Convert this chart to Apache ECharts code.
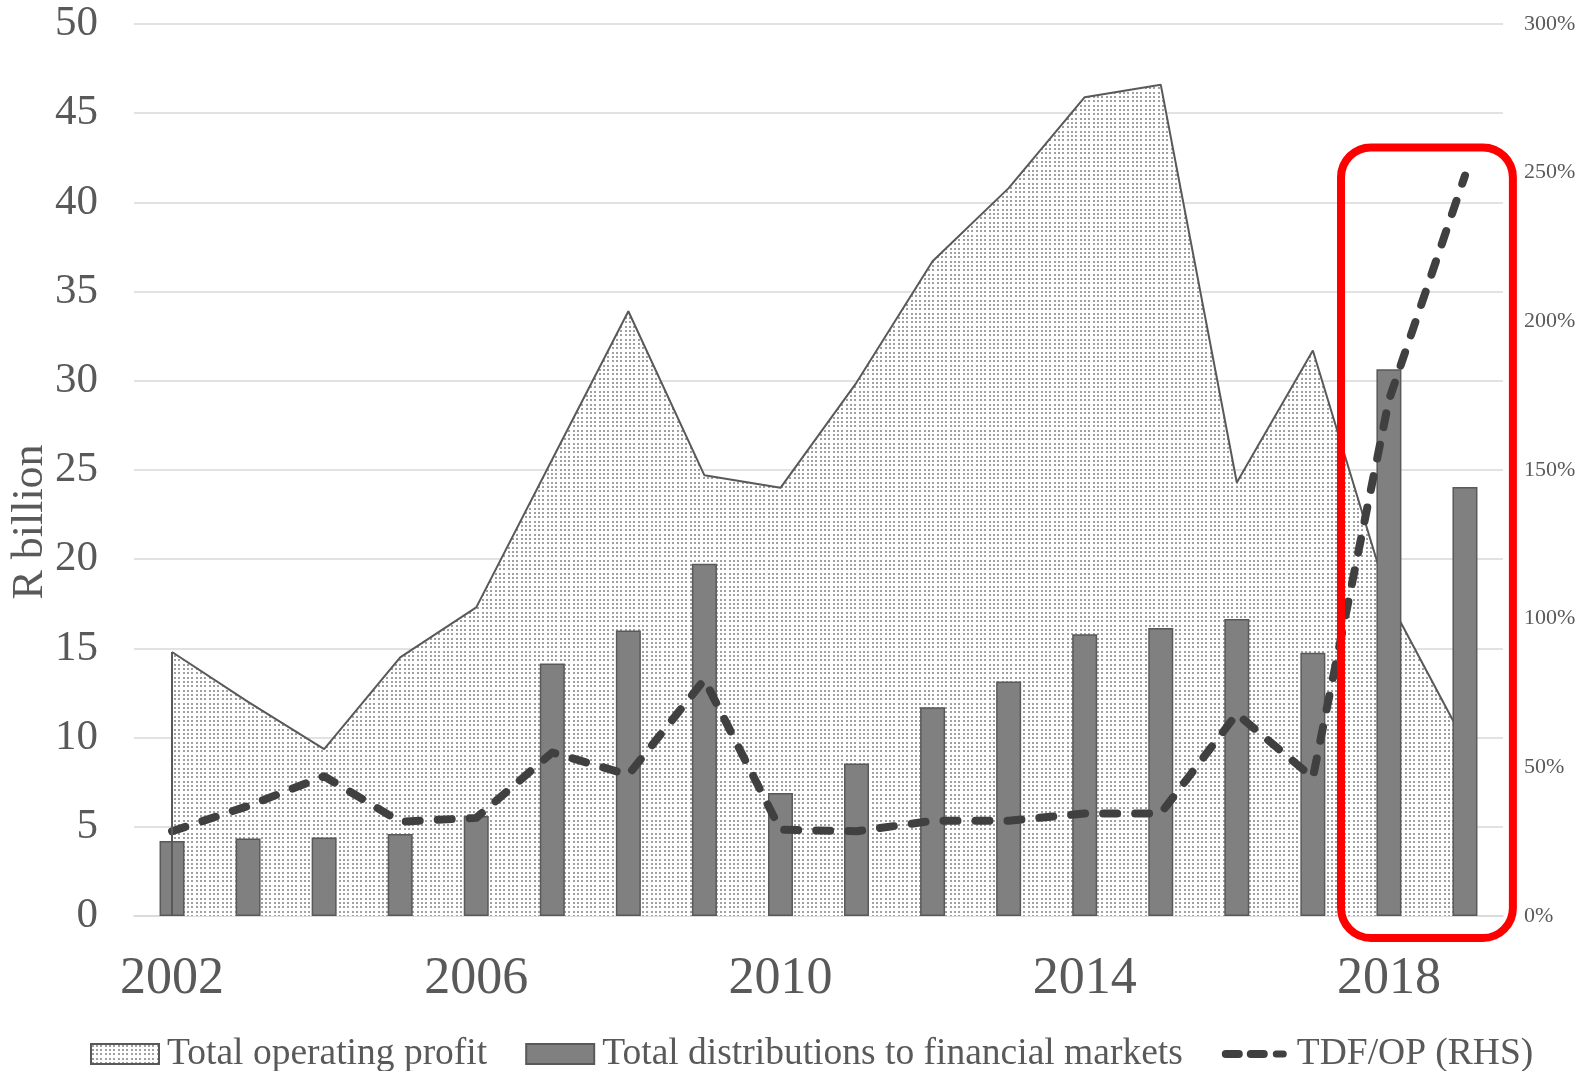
<!DOCTYPE html>
<html>
<head>
<meta charset="utf-8">
<script src="https://cdn.jsdelivr.net/npm/echarts@6/dist/echarts.min.js"></script>
<style>
  html, body { margin: 0; padding: 0; background: #fff; }
  #chart { width: 1583px; height: 1071px; }
</style>
</head>
<body>
<div id="chart"></div>
<script>
// Years on the category axis
const years = ['2002','2003','2004','2005','2006','2007','2008','2009','2010',
               '2011','2012','2013','2014','2015','2016','2017','2018','2019'];
// Total operating profit, R billion
const operatingProfit = [14.8, 12.0, 9.35, 14.5, 17.3, 25.6, 33.9, 24.7, 24.0,
                         29.9, 36.7, 40.8, 45.9, 46.6, 24.3, 31.7, 17.7, 9.7];
// Total distributions to financial markets, R billion
const distributions = [4.2, 4.35, 4.4, 4.6, 5.6, 14.15, 16.0, 19.75, 6.9,
                       8.55, 11.7, 13.15, 15.8, 16.15, 16.65, 14.75, 30.65, 24.05];
// TDF/OP ratio, percent (right-hand scale)
const tdfRatio = [28.5, 37, 47, 31.7, 33, 55, 47.5, 79.5, 29, 28.5, 32, 32,
                  34.5, 34.5, 68, 46.5, 173.5, 249];
// Tick labels
const leftTicks = { min: 0, max: 50, step: 5 };
const rightTicks = { min: 0, max: 300, step: 50 };
const leftAxisTitle = 'R billion';

const FONT = "'Liberation Serif', 'Times New Roman', serif";
const GREY_TEXT = '#595959';

// Fine dotted stipple used for the operating-profit area
function makeDots() {
  const n = 13;
  const c = document.createElement('canvas');
  c.width = n; c.height = n;
  const g = c.getContext('2d');
  g.fillStyle = '#ffffff';
  g.fillRect(0, 0, n, n);
  g.fillStyle = '#a0a0a0';
  const offs = [1, 5, 9];
  offs.forEach(function (x) {
    offs.forEach(function (y) { g.fillRect(x, y, 2, 2); });
  });
  return c;
}
const dots = makeDots();

// Legend glyph for the dashed ratio line: three rounded dashes
function stadium(a, b, y0, y1) {
  const r = (y1 - y0) / 2;
  return 'M' + (a + r) + ',' + y0 + 'L' + (b - r) + ',' + y0 +
         'A' + r + ',' + r + ',0,0,1,' + (b - r) + ',' + y1 +
         'L' + (a + r) + ',' + y1 +
         'A' + r + ',' + r + ',0,0,1,' + (a + r) + ',' + y0 + 'Z';
}
const dashIcon = 'path://M0,0L0.05,0L0,0.05Z M68,20L67.95,20L68,19.95Z ' +
  stadium(1, 22, 6, 14) + ' ' + stadium(26, 47, 6, 14) + ' ' + stadium(52, 66, 6.5, 13.5);

const chart = echarts.init(document.getElementById('chart'), null, { renderer: 'canvas' });

const option = {
  animation: false,
  backgroundColor: '#ffffff',
  grid: { left: 134, right: 80, top: 24, bottom: 155, containLabel: false, outerBoundsMode: 'none' },
  legend: {
    left: 85,
    top: 1030,
    itemWidth: 68,
    itemHeight: 20,
    itemGap: 38,
    textStyle: { fontFamily: FONT, fontSize: 37.5, color: GREY_TEXT, padding: [0, 0, 0, 3] },
    data: [
      { name: 'Total operating profit', icon: 'rect' },
      { name: 'Total distributions to financial markets', icon: 'rect' },
      { name: 'TDF/OP (RHS)', icon: dashIcon }
    ]
  },
  xAxis: {
    type: 'category',
    data: years,
    boundaryGap: true,
    axisTick: { show: false },
    axisLine: { lineStyle: { color: '#d9d9d9', width: 1.5 } },
    axisLabel: { interval: 3, fontFamily: FONT, fontSize: 52, color: GREY_TEXT, margin: 37 }
  },
  yAxis: [
    {
      type: 'value',
      min: leftTicks.min, max: leftTicks.max, interval: leftTicks.step,
      axisLine: { show: false },
      axisTick: { show: false },
      axisLabel: { fontFamily: FONT, fontSize: 43, color: GREY_TEXT, margin: 36 },
      splitLine: { lineStyle: { color: '#d9d9d9', width: 1.5 } }
    },
    {
      type: 'value',
      min: rightTicks.min, max: rightTicks.max, interval: rightTicks.step,
      axisLine: { show: false },
      axisTick: { show: false },
      splitLine: { show: false },
      axisLabel: { fontFamily: FONT, fontSize: 22, color: GREY_TEXT, margin: 21, formatter: '{value}%' }
    }
  ],
  series: [
    {
      name: 'Total operating profit',
      type: 'line',
      data: operatingProfit,
      symbol: 'none',
      z: 1,
      lineStyle: { color: '#595959', width: 2 },
      itemStyle: { color: { image: dots, repeat: 'repeat' }, borderColor: '#595959', borderWidth: 1.5 },
      areaStyle: { color: { image: dots, repeat: 'repeat' }, opacity: 1 },
      markLine: {
        silent: true,
        symbol: 'none',
        label: { show: false },
        lineStyle: { color: '#595959', width: 2, type: 'solid' },
        data: [[{ coord: [0, 0] }, { coord: [0, operatingProfit[0]] }]]
      }
    },
    {
      name: 'Total distributions to financial markets',
      type: 'bar',
      data: distributions,
      barWidth: 25,
      z: 2,
      itemStyle: { color: '#808080', borderColor: '#595959', borderWidth: 1.5 }
    },
    {
      name: 'TDF/OP (RHS)',
      type: 'line',
      yAxisIndex: 1,
      data: tdfRatio,
      symbol: 'none',
      z: 3,
      itemStyle: { color: '#404040' },
      lineStyle: { color: '#404040', width: 8, type: [14, 18], cap: 'round', join: 'round' }
    }
  ]
};

chart.setOption(option);

// Rounded red frame around the last two years
const x2018 = chart.convertToPixel({ xAxisIndex: 0 }, years[16]);
const x2019 = chart.convertToPixel({ xAxisIndex: 0 }, years[17]);
const band = x2019 - x2018;
const yTop = chart.convertToPixel({ yAxisIndex: 1 }, 258.5);
const yZero = chart.convertToPixel({ yAxisIndex: 0 }, 0);
const boxLeft = x2018 - band * 0.63;
const boxRight = x2019 + band * 0.63;
chart.setOption({
  graphic: [
    {
      type: 'rect',
      z: 100,
      shape: { x: boxLeft, y: yTop, width: boxRight - boxLeft, height: (yZero + 22) - yTop, r: 30 },
      style: { fill: 'none', stroke: '#ff0000', lineWidth: 8 }
    },
    {
      // vertical title of the left axis
      type: 'text',
      x: 30,
      y: 522,
      rotation: Math.PI / 2,
      style: {
        text: leftAxisTitle,
        font: '44px ' + FONT,
        fill: GREY_TEXT,
        align: 'center',
        verticalAlign: 'middle'
      }
    }
  ]
});
</script>
</body>
</html>
